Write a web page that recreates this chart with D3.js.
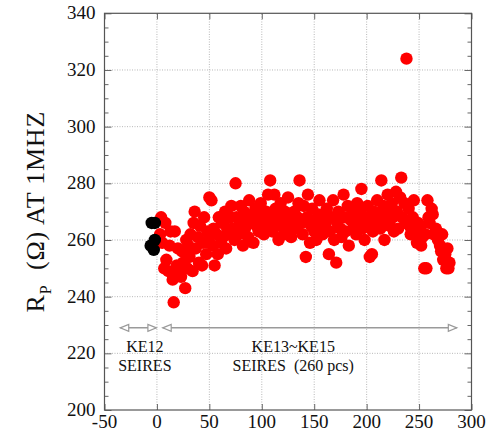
<!DOCTYPE html>
<html><head><meta charset="utf-8">
<script src="https://cdn.jsdelivr.net/npm/d3@7"></script>
<style>body{margin:0;background:#fff}svg{display:block}</style>
</head><body>
<svg id="c" width="489" height="441" font-family="Liberation Serif" style="font-family:'Liberation Serif'"></svg>
<script>
const xTicks = [-50, 0, 50, 100, 150, 200, 250, 300];
const yTicks = [200, 220, 240, 260, 280, 300, 320, 340];
const yMinor = [205,210,215,225,230,235,245,250,255,265,270,275,285,290,295,305,310,315,325,330,335];

const blackX = [-5, -2, -6, -2, -3];
const blackY = [266, 266, 258, 260, 256.5];

const redX = [
 3,4,5,7,8,9,11,12,13,15,16,17,19,20,21,23,24,25,27,28,29,30,
 31,32,34,35,36,37,39,40,41,43,44,45,47,48,49,50,52,53,54,55,57,58,59,61,62,63,65,66,67,69,70,
 71,72,74,75,76,78,79,80,82,83,84,86,87,88,90,91,92,94,95,97,98,99,
 101,102,104,105,106,108,109,110,112,113,114,116,117,118,120,121,122,124,125,127,128,129,
 131,132,134,135,136,138,139,140,142,143,144,146,147,148,150,151,152,154,155,157,158,159,
 161,162,164,165,166,168,169,171,172,173,175,176,178,179,180,182,183,185,186,187,189,190,
 191,192,194,195,196,198,199,201,202,203,205,206,207,209,210,212,213,214,216,217,218,220,
 221,222,224,225,226,228,229,230,232,233,234,236,237,238,240,241,242,244,245,246,248,249,
 251,252,253,255,256,257,258,259,260,262,263,264,266,267,268,270,271,272,273,275,276,277,278,279
];
const redY = [
 262,268,259,250,266,253,249,258,263,246,238,263,251,257,248,247,256,252,243,260,250,258,
 254,262,249,266,270,257,261,252,265,251,259,268,255,263,260,275,274,258,264,251,262,255,268,259,266,261,270,257,264,262,268,
 272,264,260,280,268,262,266,272,258,270,264,267,261,274,266,269,259,271,265,263,268,273,
 266,262,270,265,276,281,268,263,276,271,265,260,269,273,267,262,270,264,275,268,261,266,
 270,264,268,273,281,266,262,272,254,268,276,259,265,271,263,267,260,269,274,265,262,268,
 266,271,255,263,268,274,260,252,266,270,264,261,276,268,263,272,258,267,271,264,269,262,
 273,266,270,278,264,260,268,272,265,254,255,263,270,267,274,269,264,281,272,260,267,276,
 270,265,273,268,263,277,270,264,275,282,268,273,266,324,271,265,262,268,274,263,259,266,
 264,258,261,250,262,250,274,268,266,271,269,262,264,263,260,258,256,262,253,255,250,257,250,252
];

const arrowY = 229;
const arrows = [[-35, -0.5], [5.5, 286]];
const labelX = [-11.5, 130];
const labelLines = [["KE12", "SEIRES"], ["KE13~KE15", "SEIRES\u00a0\u00a0(260 pcs)"]];
const labelY = [220.4, 213.9];

const W = 489, H = 441;
const m = {l: 104.5, r: 17.5, t: 13.3, b: 31};
const FONT = "Liberation Serif";
const svg = d3.select("#c");
const x = d3.scaleLinear().domain([-50, 300]).range([m.l, W - m.r]);
const y = d3.scaleLinear().domain([200, 340]).range([H - m.b, m.t]);

// grid
const g = svg.append("g");
g.selectAll(".gx").data(xTicks.slice(1, -1)).join("line")
  .attr("x1", d => x(d)).attr("x2", d => x(d)).attr("y1", y(200)).attr("y2", y(340))
  .attr("stroke", "#b8b8b8").attr("stroke-width", 1).attr("stroke-dasharray", "1,1.5");
g.selectAll(".gy").data(yTicks.slice(1, -1)).join("line")
  .attr("y1", d => y(d)).attr("y2", d => y(d)).attr("x1", x(-50)).attr("x2", x(300))
  .attr("stroke", "#b8b8b8").attr("stroke-width", 1).attr("stroke-dasharray", "1,1.5");

// tick marks (inward) via axes, labels drawn separately
function ticksOnly(sel) {
  sel.select(".domain").remove();
  sel.selectAll(".tick line").attr("stroke", "#666");
  sel.selectAll("text").remove();
}
svg.append("g").attr("transform", `translate(0,${y(200)})`)
  .call(d3.axisBottom(x).tickValues(xTicks).tickSizeInner(-6).tickSizeOuter(0)).call(ticksOnly);
svg.append("g").attr("transform", `translate(0,${y(340)})`)
  .call(d3.axisTop(x).tickValues(xTicks).tickSizeInner(-6).tickSizeOuter(0)).call(ticksOnly);
svg.append("g").attr("transform", `translate(${x(-50)},0)`)
  .call(d3.axisLeft(y).tickValues(yTicks).tickSizeInner(-7).tickSizeOuter(0)).call(ticksOnly);
svg.append("g").attr("transform", `translate(${x(-50)},0)`)
  .call(d3.axisLeft(y).tickValues(yMinor).tickSizeInner(-4).tickSizeOuter(0)).call(ticksOnly);
svg.append("g").attr("transform", `translate(${x(300)},0)`)
  .call(d3.axisRight(y).tickValues(yTicks).tickSizeInner(-7).tickSizeOuter(0)).call(ticksOnly);
svg.append("g").attr("transform", `translate(${x(300)},0)`)
  .call(d3.axisRight(y).tickValues(yMinor).tickSizeInner(-4).tickSizeOuter(0)).call(ticksOnly);

// tick labels
svg.append("g").selectAll("text").data(xTicks).join("text")
  .attr("x", d => x(d)).attr("y", y(200) + 18).attr("text-anchor", "middle")
  .attr("font-family", FONT).style("font-family", FONT).attr("font-size", 19).attr("fill", "#111")
  .text(d => d);
svg.append("g").selectAll("text").data(yTicks).join("text")
  .attr("x", x(-50) - 9).attr("y", d => y(d) + 6).attr("text-anchor", "end")
  .attr("font-family", FONT).style("font-family", FONT).attr("font-size", 19).attr("fill", "#111")
  .text(d => d);

svg.append("rect").attr("x", x(-50)).attr("y", y(340))
  .attr("width", x(300) - x(-50)).attr("height", y(200) - y(340))
  .attr("fill", "none").attr("stroke", "#555").attr("stroke-width", 1.2);

// arrows
const ag = svg.append("g");
arrows.forEach(([a, b]) => {
  ag.append("line").attr("x1", x(a)).attr("x2", x(b)).attr("y1", y(arrowY)).attr("y2", y(arrowY))
    .attr("stroke", "#9a9a9a").attr("stroke-width", 1.5);
  const yy = y(arrowY);
  [[x(a), 1], [x(b), -1]].forEach(([tx, dir]) => {
    ag.append("path")
      .attr("d", `M${tx},${yy} L${tx + dir * 8.5},${yy - 3.5} L${tx + dir * 8.5},${yy + 3.5} Z`)
      .attr("fill", "#fff").attr("stroke", "#9a9a9a").attr("stroke-width", 1.2);
  });
});
labelX.forEach((lx, j) => {
  labelLines[j].forEach((t, i) => {
    svg.append("text").attr("x", x(lx)).attr("y", y(labelY[i]))
      .attr("text-anchor", "middle").attr("font-family", FONT).style("font-family", FONT)
      .attr("font-size", 16).attr("fill", "#111").text(t);
  });
});

// points
const pts = redX.map((d, i) => ({x: d, y: redY[i]}));
svg.append("g").selectAll("circle").data(pts).join("circle")
  .attr("cx", d => x(d.x)).attr("cy", d => y(d.y)).attr("r", 6.2).attr("fill", "#ff0000");
const bpts = blackX.map((d, i) => ({x: d, y: blackY[i]}));
svg.append("g").selectAll("circle").data(bpts).join("circle")
  .attr("cx", d => x(d.x)).attr("cy", d => y(d.y)).attr("r", 6.2).attr("fill", "#000");

// y title
const yt = svg.append("text").attr("transform", `translate(44,${(y(200) + y(340)) / 2}) rotate(-90)`)
  .attr("text-anchor", "middle").attr("font-family", FONT).style("font-family", FONT)
  .attr("font-size", 26).attr("letter-spacing", 0.8).attr("fill", "#111");
yt.append("tspan").text("R");
yt.append("tspan").attr("font-size", 16).attr("dy", 7).text("P");
yt.append("tspan").attr("dy", -7).text("\u00a0\u00a0(\u03a9) AT 1MHZ");
</script>
</body></html>
